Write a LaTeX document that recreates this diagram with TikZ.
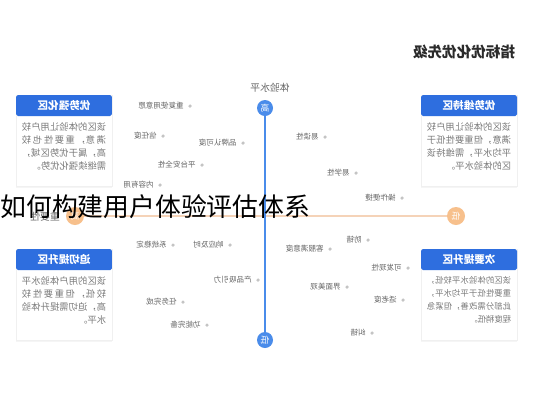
\documentclass[tikz,border=0pt]{standalone}
\usepackage{fontspec}
\usepackage{xcolor}
\usepackage{tikz}
\usetikzlibrary{shadows}
\newfontfamily\cjk{Noto Sans CJK SC}
\XeTeXlinebreaklocale "zh"
\XeTeXlinebreakskip=0pt plus 1pt

\definecolor{headblue}{HTML}{2E6EDF}
\definecolor{axisblue}{HTML}{4A8CEA}
\definecolor{axisorange}{HTML}{F7C08C}
\definecolor{lineorange}{HTML}{F5D3B8}
\definecolor{itemgray}{HTML}{666666}
\definecolor{bodygray}{HTML}{7A7A7A}
\definecolor{dotgray}{HTML}{C4C4C4}
\definecolor{titlegray}{HTML}{2B2B2B}

\begin{document}
\begin{tikzpicture}[x=0.02cm,y=-0.02cm,
  flip/.style={xscale=-1},
  panel/.style={draw=black!6,fill=white,minimum width=1.92cm,minimum height=1.82cm,
    drop shadow={shadow xshift=0pt,shadow yshift=-1pt,opacity=0.08}},
  head/.style={flip,fill=headblue,text=white,minimum width=1.92cm,minimum height=0.42cm,
    rounded corners=1pt,inner sep=0pt,font=\cjk\bfseries\fontsize{6}{7}\selectfont},
  body/.style={flip,text=bodygray,text width=48pt,align=justify,inner sep=0pt,
    font=\cjk\fontsize{5.3}{7.4}\selectfont},
  item/.style={flip,text=itemgray,inner sep=0pt,anchor=west,
    font=\cjk\fontsize{4.3}{5}\selectfont},
  itemdot/.style={circle,fill=dotgray,minimum size=2pt,inner sep=0pt},
  vend/.style={flip,circle,fill=axisblue,text=white,minimum size=0.32cm,inner sep=0pt,
    font=\cjk\fontsize{5}{5}\selectfont},
  hend/.style={flip,circle,fill=axisorange,text=white,minimum size=0.36cm,inner sep=0pt,
    font=\cjk\fontsize{5}{5}\selectfont},
  axislabel/.style={flip,text=itemgray,inner sep=0pt,font=\cjk\fontsize{5.6}{6}\selectfont}]

  \fill[white] (0,0) rectangle (533,400);
  \useasboundingbox (0,0) rectangle (533,400);

  \node[flip,text=titlegray,font=\cjk\bfseries\fontsize{8.3}{9}\selectfont] (title) at (464,52) {指标优化优先级};

  \node[axislabel] (vlab) at (270,88) {体验水平};
  \node[axislabel] (hlab) at (45,217) {重要性};

  \node[hend] (hhigh) at (75,216) {高};
  \node[hend] (hlow) at (456,216) {低};
  \draw[lineorange,line width=1pt] (hhigh) -- (hlow);

  \node[vend] (vhigh) at (265,108) {高};
  \node[vend] (vlow) at (265,340) {低};
  \draw[axisblue,line width=1.2pt] (vhigh) -- (vlow);

  \foreach \x/\y/\t [count=\i] in {190/106/重复使用意愿, 163/136/信任度, 243/143/品牌认可度,
      202/165/平台安全性, 160/185/内容有用, 325/137/易读性, 356/173/易学性, 402/198/操作便捷,
      173/245/系统稳定, 230/245/响应及时, 258/280/产品吸引力, 183/302/任务完成, 207/325/功能完备,
      368/240/防错, 330/249/客服满意度, 408/268/可发现性, 347/287/界面美观, 403/300/适老度, 372/333/纠错}{
    \node[itemdot] (d\i) at (\x,\y) {};
    \node[item] (t\i) at (\x-6,\y) {\t};
  }

  \node[panel] (p1) at (64,140.5) {};
  \node[head,anchor=north] (h1) at (p1.north) {优势强化区};
  \node[body,anchor=north] (b1) at ([yshift=-0.12cm]h1.south)
    {该区的体验让用户较\linebreak 满意，重要性也较\linebreak 高，属于优势区域，\linebreak 需继续强化优势。};

  \node[panel] (p2) at (469,140.5) {};
  \node[head,anchor=north] (h2) at (p2.north) {优势维持区};
  \node[body,anchor=north] (b2) at ([yshift=-0.12cm]h2.south)
    {该区的体验让用户较\linebreak 满意，但重要性低于\linebreak 平均水平，需维持该\linebreak 区的体验水平。};

  \node[panel] (p3) at (64,294.5) {};
  \node[head,anchor=north] (h3) at (p3.north) {迫切提升区};
  \node[body,anchor=north] (b3) at ([yshift=-0.12cm]h3.south)
    {该区的用户体验水平\linebreak 较低，但重要性较\linebreak 高，迫切需提升体验\linebreak 水平。};

  \node[panel] (p4) at (469,294.5) {};
  \node[head,anchor=north] (h4) at (p4.north) {次要提升区};
  \node[body,anchor=north,font=\cjk\fontsize{4.75}{7.4}\selectfont] (b4) at ([yshift=-0.12cm]h4.south)
    {该区的体验水平较低，\linebreak 重要性低于平均水平，\linebreak 此部分需改善，但紧急\linebreak 程度稍低。};

  \node[anchor=west,inner sep=0pt,text=black,font=\cjk\fontsize{14.7}{16}\selectfont] (overlay) at (0,207) {如何构建用户体验评估体系};
\end{tikzpicture}
\end{document}
